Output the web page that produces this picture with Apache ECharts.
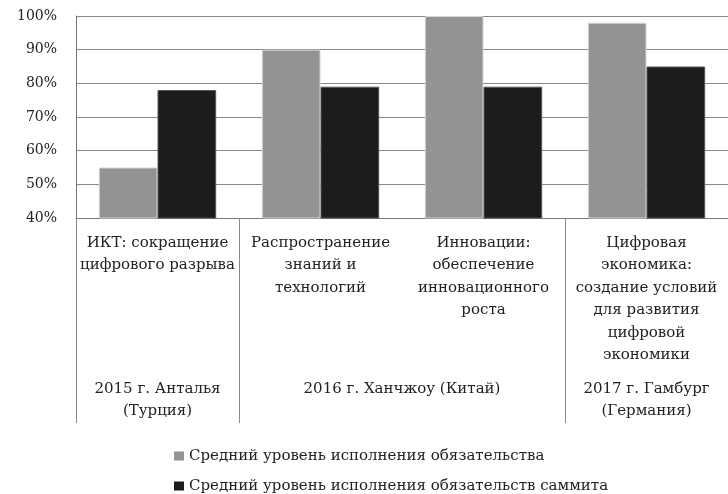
<!DOCTYPE html>
<html>
<head>
<meta charset="utf-8">
<script src="https://cdn.jsdelivr.net/npm/echarts@6/dist/echarts.min.js"></script>
<style>
  html, body { margin: 0; background: #fff; }
  #chart { width: 728px; height: 494px; }
</style>
</head>
<body>
<div id="chart"></div>
<script>
// подписи категорий (как в оригинале, с переносами)
const categories = [
  'ИКТ: сокращение\nцифрового разрыва',
  'Распространение\nзнаний и\nтехнологий',
  'Инновации:\nобеспечение\nинновационного\nроста',
  'Цифровая\nэкономика:\nсоздание условий\nдля развития\nцифровой\nэкономики'
];
// саммиты (группы категорий)
const groups = ['2015 г. Анталья\n(Турция)', '2016 г. Ханчжоу (Китай)', '2017 г. Гамбург\n(Германия)'];
const groupCenters = [0.5, 2, 3.5];
const groupBounds = [0, 1, 3, 4];

const seriesNames = [
  'Средний уровень исполнения обязательства',
  'Средний уровень исполнения обязательств саммита'
];
const commitmentAvg = [55, 90, 100, 98];
const summitAvg = [78, 79, 79, 85];

const font = 'DejaVu Serif';

// легенда в две строки: по одной на серию
function legendRow(name, top) {
  return {
    left: 174,
    top: top,
    padding: 0,
    itemWidth: 10,
    itemHeight: 9,
    icon: 'rect',
    itemStyle: { borderWidth: 0 },
    textStyle: { fontFamily: font, fontSize: 15, color: '#222', lineHeight: 18 },
    data: [name]
  };
}

let myChart = echarts.init(document.getElementById('chart'));
let option = {
  animation: false,
  textStyle: { fontFamily: font },
  grid: { left: 76, right: -14, top: 16, bottom: 276 },
  legend: [legendRow(seriesNames[0], 447), legendRow(seriesNames[1], 477)],
  xAxis: [
    {
      type: 'category',
      data: categories,
      position: 'bottom',
      axisLine: { lineStyle: { color: '#777', width: 1 } },
      axisTick: { show: false },
      axisLabel: {
        interval: 0,
        margin: 14,
        fontFamily: font,
        fontSize: 15,
        lineHeight: 22.4,
        color: '#222',
        verticalAlign: 'top'
      }
    },
    {
      type: 'value',
      min: 0,
      max: 4,
      position: 'bottom',
      axisLine: { show: false },
      splitLine: { show: false },
      axisTick: {
        show: true,
        customValues: groupBounds,
        length: 205,
        lineStyle: { color: '#888', width: 1 }
      },
      axisLabel: {
        customValues: groupCenters,
        margin: 160,
        fontFamily: font,
        fontSize: 15,
        lineHeight: 22.4,
        color: '#222',
        verticalAlign: 'top',
        formatter: function (value) {
          const i = groupCenters.indexOf(value);
          return i >= 0 ? groups[i] : '';
        }
      }
    }
  ],
  yAxis: {
    type: 'value',
    min: 40,
    max: 100,
    interval: 10,
    axisLine: { show: true, lineStyle: { color: '#777', width: 1 } },
    axisTick: { show: false },
    splitLine: { lineStyle: { color: '#888', width: 1 } },
    axisLabel: {
      margin: 19,
      fontFamily: font,
      fontSize: 14,
      color: '#222',
      formatter: '{value}%'
    }
  },
  series: [
    {
      name: seriesNames[0],
      type: 'bar',
      xAxisIndex: 0,
      barGap: '0%',
      barCategoryGap: '28%',
      itemStyle: { color: '#939393', borderColor: '#d4d4d4', borderWidth: 1 },
      data: commitmentAvg
    },
    {
      name: seriesNames[1],
      type: 'bar',
      xAxisIndex: 0,
      barGap: '0%',
      barCategoryGap: '28%',
      itemStyle: { color: '#1c1c1c', borderColor: '#555', borderWidth: 1 },
      data: summitAvg
    }
  ]
};
myChart.setOption(option);
</script>
</body>
</html>
